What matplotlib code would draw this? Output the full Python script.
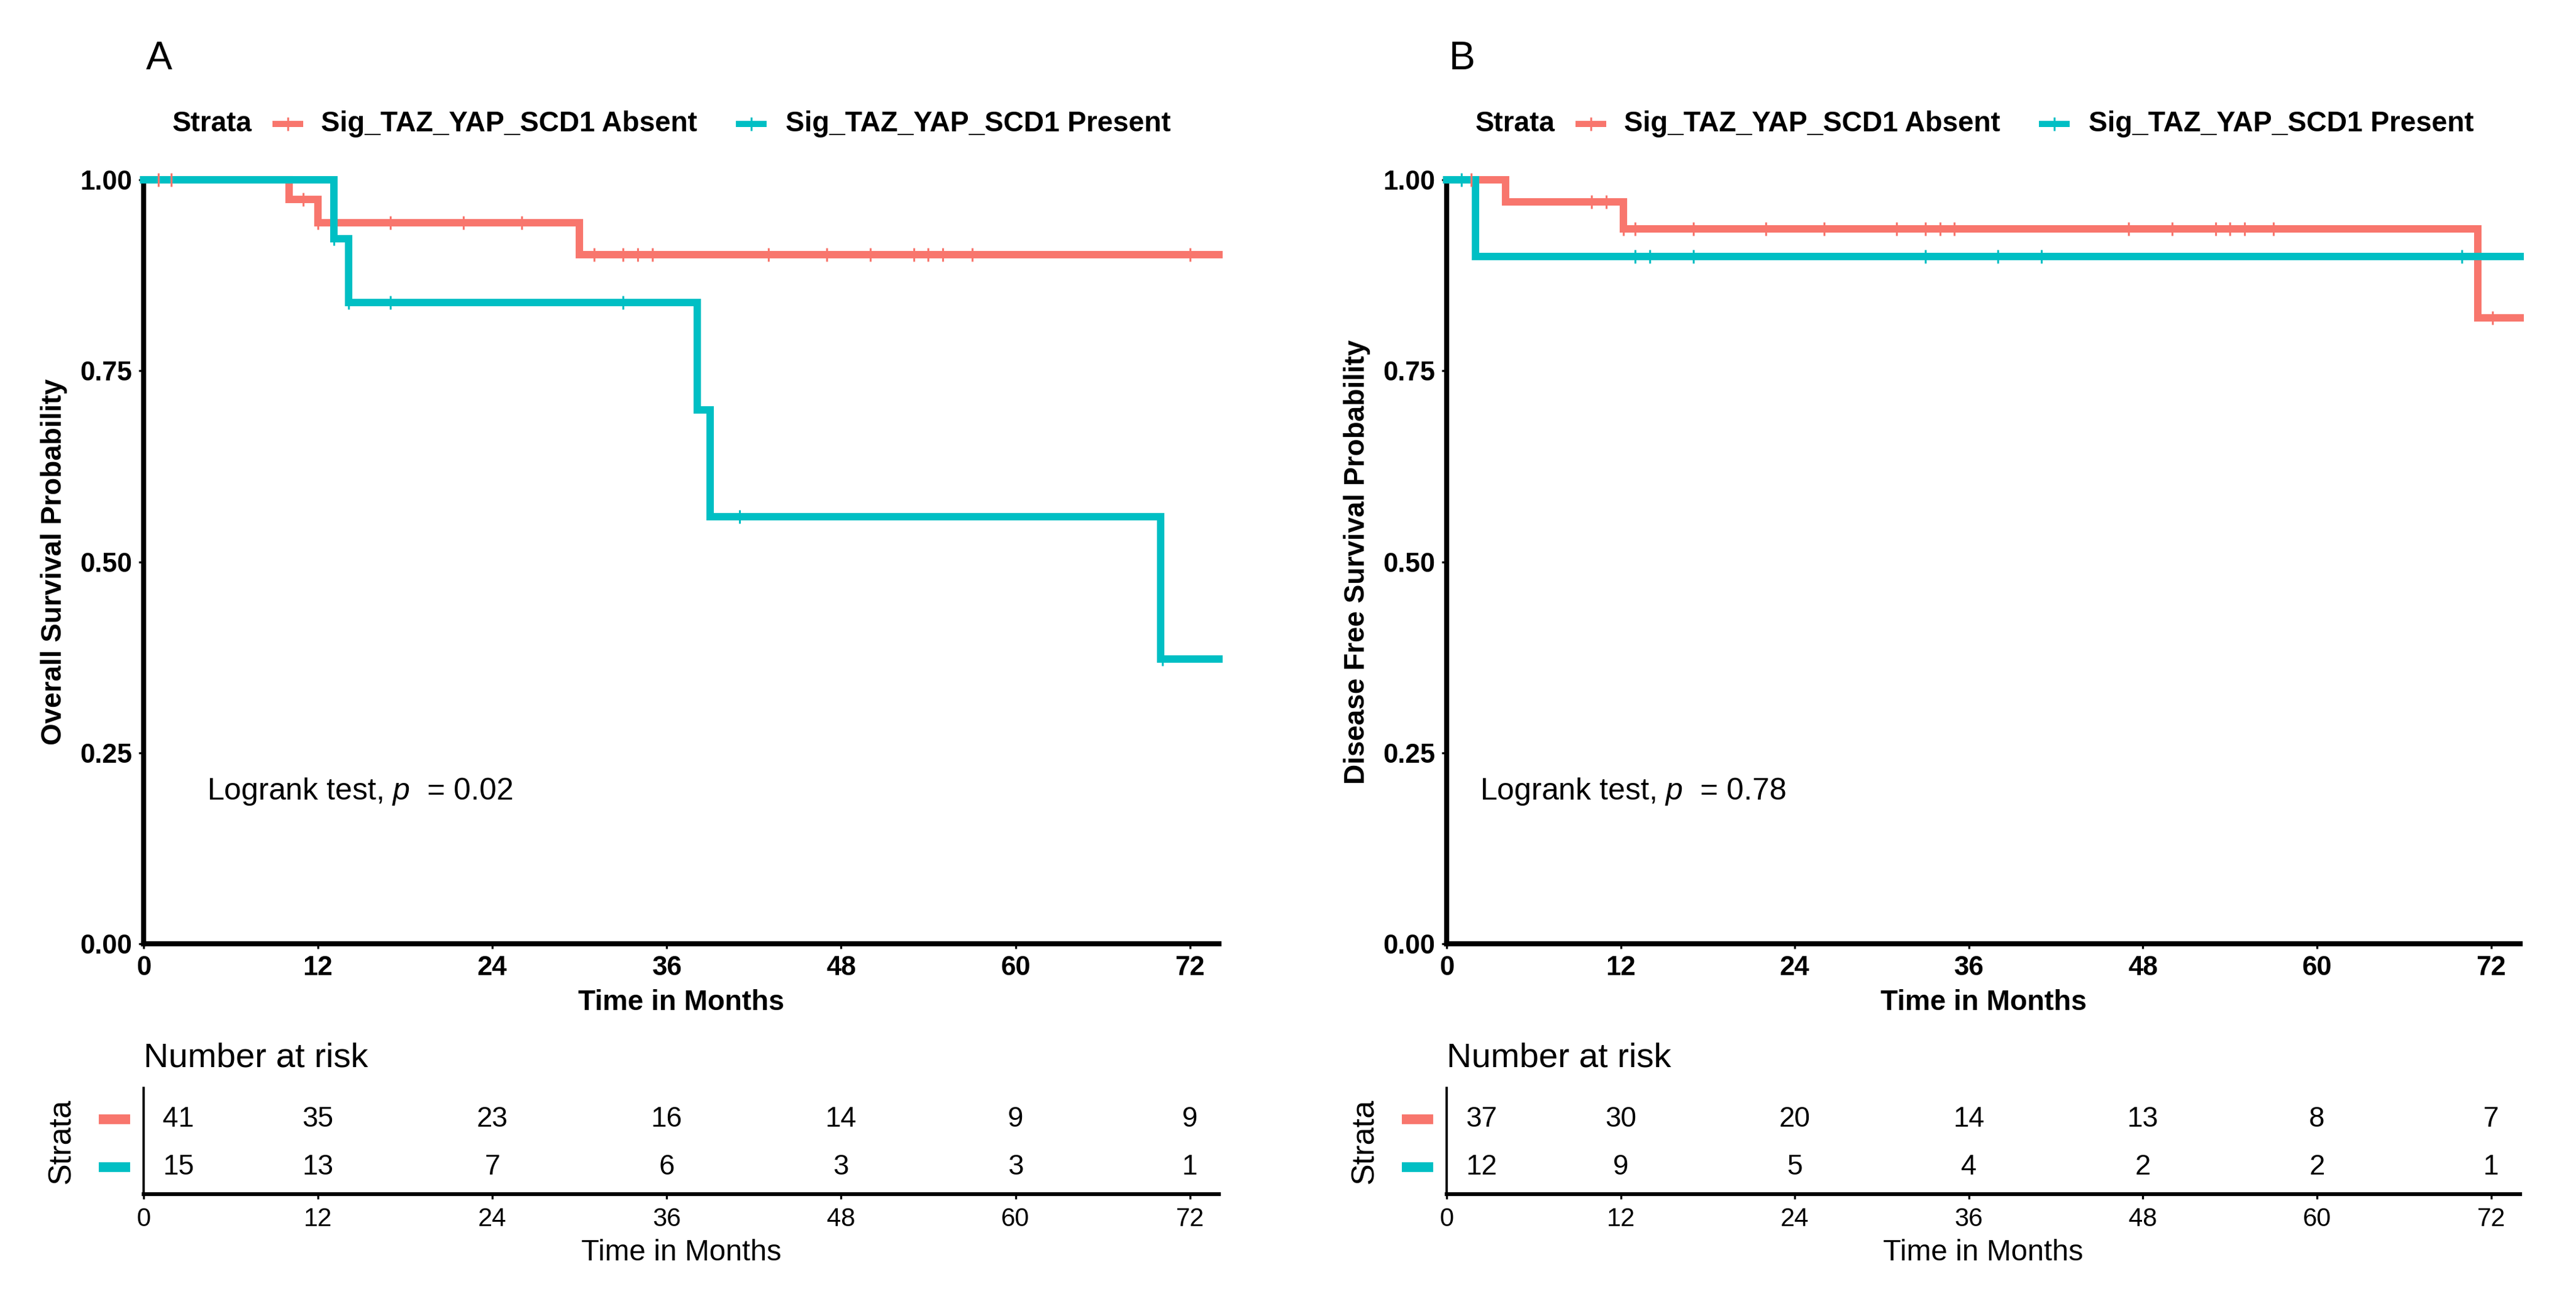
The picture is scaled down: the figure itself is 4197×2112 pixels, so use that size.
import numpy as np
import matplotlib
matplotlib.use('Agg')
import matplotlib.pyplot as plt
from matplotlib.lines import Line2D
from matplotlib.transforms import blended_transform_factory

plt.rcParams['font.family'] = ['Liberation Sans', 'DejaVu Sans']
plt.rcParams['mathtext.fontset'] = 'custom'
plt.rcParams['mathtext.rm'] = 'Liberation Sans'
plt.rcParams['mathtext.it'] = 'Liberation Sans:italic'

RED = '#F8766D'
TEAL = '#00BFC4'
COLORS = [RED, TEAL]

groups = ['Sig_TAZ_YAP_SCD1 Absent', 'Sig_TAZ_YAP_SCD1 Present']
time_ticks = [0, 12, 24, 36, 48, 60, 72]
y_ticks = [0.00, 0.25, 0.50, 0.75, 1.00]
max_time = 74

# ---- Panel A : overall survival ----
a_absent_times = [0, 10, 12, 30]
a_absent_surv = [1.0, 0.974, 0.944, 0.902]
a_absent_cens = [1, 1.9, 11, 12, 17, 22, 26, 31, 33, 34, 35, 43, 47, 50, 53, 54, 55, 57, 72]
a_present_times = [0, 13.1, 14.1, 38.1, 39.0, 70.0]
a_present_surv = [1.0, 0.923, 0.839, 0.699, 0.559, 0.373]
a_present_cens = [13.1, 14.1, 17, 33, 41, 70.1]
a_risk_absent = [41, 35, 23, 16, 14, 9, 9]
a_risk_present = [15, 13, 7, 6, 3, 3, 1]
a_pval = "0.02"

# ---- Panel B : disease free survival ----
b_absent_times = [0, 4.06, 12.2, 71.1]
b_absent_surv = [1.0, 0.971, 0.936, 0.819]
b_absent_cens = [1.7, 10, 11, 12.2, 13, 17, 22, 26, 31, 33, 34, 35, 47, 50, 53, 54, 55, 57, 72.1]
b_present_times = [0, 2.0]
b_present_surv = [1.0, 0.90]
b_present_cens = [1.0, 13, 14, 17, 33, 38, 41, 70]
b_risk_absent = [37, 30, 20, 14, 13, 8, 7]
b_risk_present = [12, 9, 5, 4, 2, 2, 1]
b_pval = "0.78"

W, H = 4197, 2112
fig = plt.figure(figsize=(W / 300, H / 300), dpi=300)


def px(x):
    return x / W


def py(y):
    return 1 - y / H


def draw_panel(left_px, width_px, letter, ylabel, curves, risks, pval, pval_x):
    ax = fig.add_axes([px(left_px), py(1538), width_px / W, 1245 / H])
    for (times, surv, cens), col in zip(curves, COLORS):
        t = np.append(times, max_time)
        s = np.append(surv, surv[-1])
        ax.step(t, s, where='post', color=col, lw=2.9, clip_on=False,
                solid_joinstyle='miter', zorder=3)
        idx = np.searchsorted(times, cens, side='right') - 1
        cy = np.asarray(surv)[idx]
        ax.plot(cens, cy, ls='none', marker='|', ms=5.5, mew=0.75, color=col,
                clip_on=False, zorder=4)
    ax.set_xlim(0, max_time)
    ax.set_ylim(0, 1)
    ax.set_xticks(time_ticks)
    ax.set_yticks(y_ticks)
    ax.set_yticklabels([f"{v:.2f}" for v in y_ticks])
    for side in ['top', 'right']:
        ax.spines[side].set_visible(False)
    ax.spines['left'].set_linewidth(2.0)
    ax.spines['bottom'].set_linewidth(2.0)
    ax.tick_params(axis='both', length=2, width=0.8, pad=2.5, labelsize=10.5)
    for lab in ax.get_xticklabels() + ax.get_yticklabels():
        lab.set_fontweight('bold')
    ax.set_xlabel('Time in Months', fontsize=11, fontweight='bold', labelpad=3.3)
    ax.set_ylabel(ylabel, fontsize=11, fontweight='bold')
    ax.yaxis.set_label_coords(-0.071, 0.5)
    ax.text(pval_x, 0.199, "Logrank test, $p$  = " + pval, fontsize=12,
            ha='left', va='center')

    # panel letter
    fig.text(px(left_px + 4), py(113), letter, fontsize=15.4, ha='left', va='baseline')

    # legend
    ly = py(202)
    fig.text(px(left_px + 47), ly, 'Strata', fontsize=11, fontweight='bold',
             ha='left', va='center')
    for (kc, tx), col, name in zip([(235, 289), (990, 1046)], COLORS, groups):
        fig.add_artist(Line2D([px(left_px + kc - 25), px(left_px + kc + 25)], [ly, ly],
                              color=col, lw=2.4, solid_capstyle='butt',
                              transform=fig.transFigure))
        fig.add_artist(Line2D([px(left_px + kc)], [ly], marker='|', ms=5.5, mew=0.75,
                              color=col, transform=fig.transFigure))
        fig.text(px(left_px + tx), ly, name, fontsize=11, fontweight='bold',
                 ha='left', va='center')

    # risk table
    tb = fig.add_axes([px(left_px), py(1946), width_px / W, 173 / H])
    tb.set_xlim(0, max_time)
    tb.set_ylim(0.437, 2.654)
    rows = [2, 1]
    for r, vals in zip(rows, risks):
        for t, v in zip(time_ticks, vals):
            xx = t if t > 0 else t + 2.4
            tb.text(xx, r, str(v), ha='center', va='center', fontsize=11)
    trans = blended_transform_factory(tb.transAxes, tb.transData)
    for r, col in zip(rows, COLORS):
        tb.add_line(Line2D([-0.0417, -0.0126], [r, r], color=col, lw=3.8,
                           solid_capstyle='butt', transform=trans, clip_on=False))
    tb.set_yticks([])
    tb.set_xticks(time_ticks)
    for side in ['top', 'right']:
        tb.spines[side].set_visible(False)
    tb.spines['left'].set_linewidth(0.9)
    tb.spines['bottom'].set_linewidth(1.5)
    tb.tick_params(axis='x', length=2, width=0.8, pad=3, labelsize=10)
    tb.set_xlabel('Time in Months', fontsize=11.5, labelpad=2.8)
    tb.set_ylabel('Strata', fontsize=12.5)
    tb.yaxis.set_label_coords(-0.062, 0.5)
    tb.text(0, 1.283, 'Number at risk', transform=tb.transAxes, fontsize=13.5,
            ha='left', va='center')


draw_panel(234, 1752, 'A', 'Overall Survival Probability',
           [(a_absent_times, a_absent_surv, a_absent_cens),
            (a_present_times, a_present_surv, a_present_cens)],
           [a_risk_absent, a_risk_present], a_pval, 4.35)

draw_panel(2357, 1749, 'B', 'Disease Free Survival Probability',
           [(b_absent_times, b_absent_surv, b_absent_cens),
            (b_present_times, b_present_surv, b_present_cens)],
           [b_risk_absent, b_risk_present], b_pval, 2.3)

fig.savefig('out.png', dpi=300, facecolor='white')
